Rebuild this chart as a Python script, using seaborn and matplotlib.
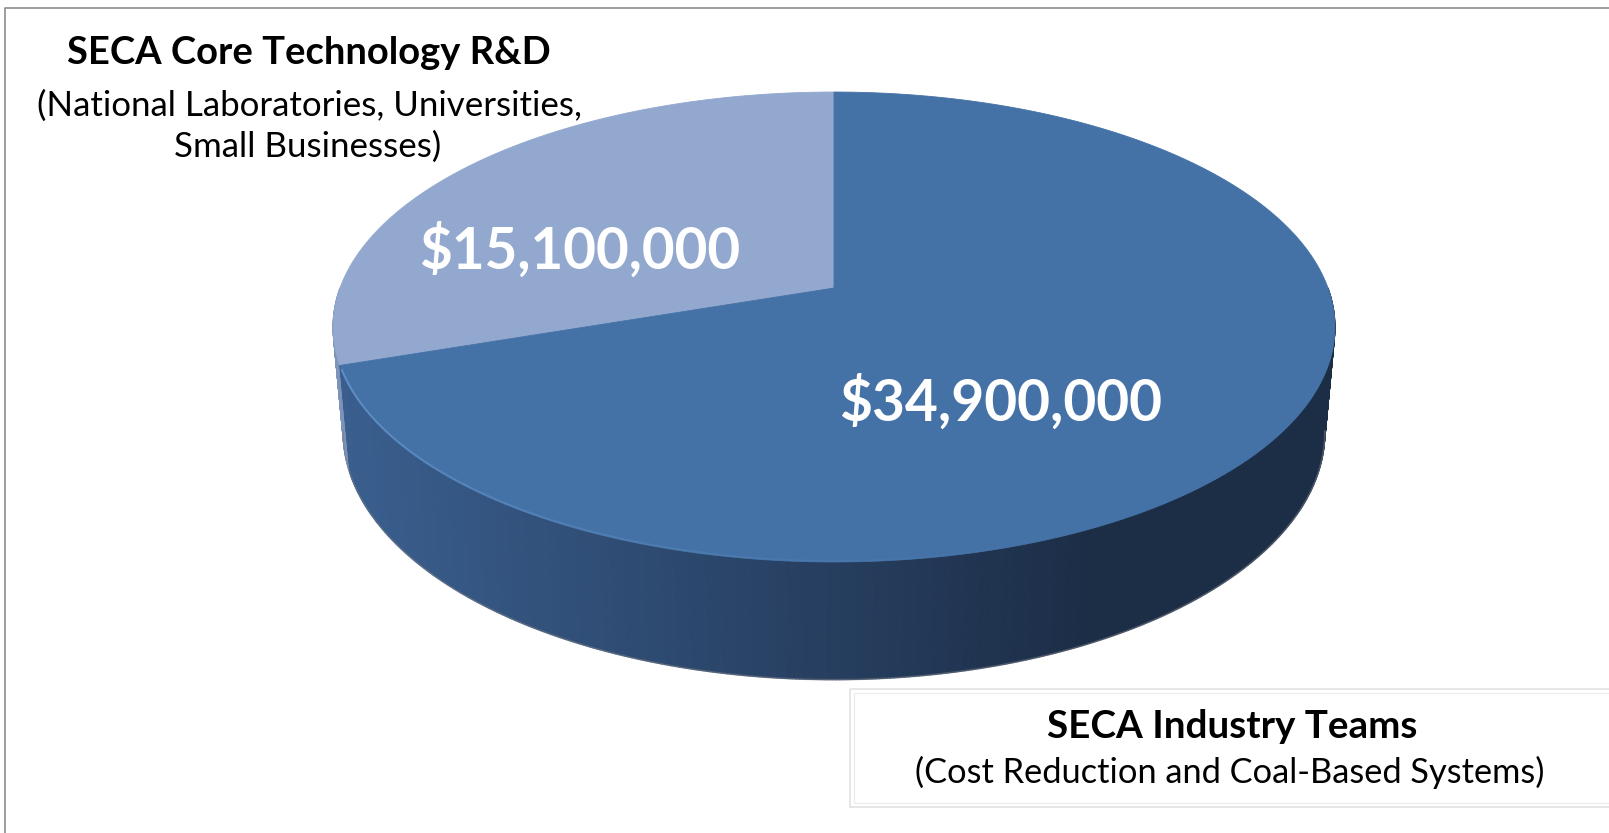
import numpy as np
import matplotlib
matplotlib.use("Agg")
import matplotlib.pyplot as plt
import seaborn as sns
from matplotlib.collections import PolyCollection, LineCollection
from matplotlib.patches import Rectangle
from matplotlib.colors import to_rgb, to_rgba

# ---------------- data ----------------
categories = ["SECA Core Technology R&D", "SECA Industry Teams"]
subtitles = ["(National Laboratories, Universities,\nSmall Businesses)",
             "(Cost Reduction and Coal-Based Systems)"]
values = [15_100_000, 34_900_000]
value_labels = ["$15,100,000", "$34,900,000"]

# ---------------- style ----------------
top_colors = ["#93A8CF", "#4472A6"]
side_left = ["#7C93BA", "#3A5F8F"]
side_right = ["#4E6285", "#1C2D46"]

sns.set_theme(style="white")
plt.rcParams["font.family"] = ["Lato", "DejaVu Sans"]

W, Hpx = 1609, 833
fig = plt.figure(figsize=(W / 100, Hpx / 100), dpi=100)
ax = fig.add_axes([0, 0, 1, 1])
ax.set_xlim(0, W)
ax.set_ylim(Hpx, 0)
ax.axis("off")

# projection parameters (perspective view of the pie)
CX, CY = 834, 288
A, B = 494, 228.5
K, M, DEPTH = 0.166, 0.02, 106


def proj(th, bottom=False):
    s, c = np.sin(th), np.cos(th)
    w = 1 + K * s + (M if bottom else 0.0)
    x = CX + A * c / w
    yup = (B * s - (DEPTH if bottom else 0.0)) / w
    return x, CY - yup


vals = np.array(values, dtype=float)
fracs = vals / vals.sum()
starts = np.deg2rad(90) + 2 * np.pi * np.concatenate([[0], np.cumsum(fracs)[:-1]])
ends = starts + 2 * np.pi * fracs


def slice_of(th):
    t = (th - starts[0]) % (2 * np.pi) + starts[0]
    for i in range(len(vals)):
        if starts[i] <= t < ends[i]:
            return i
    return len(vals) - 1


# ---------------- side (front band) ----------------
ths = np.linspace(np.pi, 2 * np.pi, 500)
quads, cols, depth = [], [], []
xl, xr = 340, 1090
for a0, a1 in zip(ths[:-1], ths[1:]):
    x0t, y0t = proj(a0)
    x1t, y1t = proj(a1)
    x0b, y0b = proj(a0, True)
    x1b, y1b = proj(a1, True)
    quads.append([(x0t, y0t), (x1t, y1t), (x1b, y1b), (x0b, y0b)])
    mid = 0.5 * (a0 + a1)
    i = slice_of(mid)
    xm = 0.25 * (x0t + x1t + x0b + x1b)
    t = np.clip((xm - xl) / (xr - xl), 0, 1)
    c = (1 - t) * np.array(to_rgb(side_left[i])) + t * np.array(to_rgb(side_right[i]))
    cols.append(c)
    depth.append(np.sin(mid))
order = np.argsort(-np.array(depth))
pc = PolyCollection([quads[j] for j in order], facecolors=[cols[j] for j in order],
                    edgecolors=[cols[j] for j in order], linewidths=0.8, antialiased=True)
ax.add_collection(pc)

# soft shadow edge along the bottom rim
bx, by = proj(np.linspace(np.pi * 1.05, np.pi * 1.95, 300), True)
ax.plot(bx, by, color="#7a7f88", lw=1.2, alpha=0.5, solid_capstyle="round")

# ---------------- top face ----------------
for i in range(len(vals)):
    th = np.linspace(starts[i], ends[i], 400)
    x, y = proj(th)
    ax.fill(np.concatenate([[CX], x]), np.concatenate([[CY], y]),
            color=top_colors[i], lw=0.6, ec=top_colors[i], zorder=3)

# light rim highlight on the front edge, fading out
hth = np.linspace(ends[0] + 0.02, np.deg2rad(300), 300)
hx, hy = proj(hth)
pts = np.column_stack([hx, hy - 1.0])
segs = np.stack([pts[:-1], pts[1:]], axis=1)
alphas = 0.75 * (1 - np.linspace(0, 1, len(segs))) ** 1.5
hcols = [to_rgba("#6E9DD6", a) for a in alphas]
ax.add_collection(LineCollection(segs, colors=hcols, linewidths=1.4, zorder=4))

# ---------------- texts ----------------
def fit(t, target_w):
    fig.canvas.draw()
    r = fig.canvas.get_renderer()
    w = t.get_window_extent(r).width
    t.set_fontsize(t.get_fontsize() * target_w / w)


t1 = ax.text(580, 251, value_labels[0], color="white", fontweight="bold",
             fontsize=40, ha="center", va="center", zorder=5)
fit(t1, 322)
t2 = ax.text(1001, 403, value_labels[1], color="white", fontweight="bold",
             fontsize=40, ha="center", va="center", zorder=5)
fit(t2, 323)

c1 = ax.text(309, 53, categories[0], fontweight="bold", fontsize=24,
             ha="center", va="center", color="black")
fit(c1, 483)
sub_lines = subtitles[0].split("\n")
s1 = ax.text(310, 106, sub_lines[0], fontsize=22, ha="center", va="center", color="black")
fit(s1, 544)
s2 = ax.text(308, 147, sub_lines[1], fontsize=s1.get_fontsize(), ha="center",
             va="center", color="black")

# box for the second category
ax.add_patch(Rectangle((850, 689), 800, 118, fill=False, ec="#E2E2E2", lw=1.2))
ax.add_patch(Rectangle((854, 693), 800, 110, fill=False, ec="#EDEDED", lw=1.0))
c2 = ax.text(1232, 727, categories[1], fontweight="bold", fontsize=24,
             ha="center", va="center", color="black")
fit(c2, 371)
s3 = ax.text(1230, 772, subtitles[1], fontsize=22, ha="center", va="center", color="black")
fit(s3, 628)

# outer frame (top/left visible)
ax.plot([5, 5, W + 5], [Hpx + 5, 8, 8], color="#8C8C8C", lw=1.2)

fig.savefig("out.png", dpi=100, facecolor="white")
